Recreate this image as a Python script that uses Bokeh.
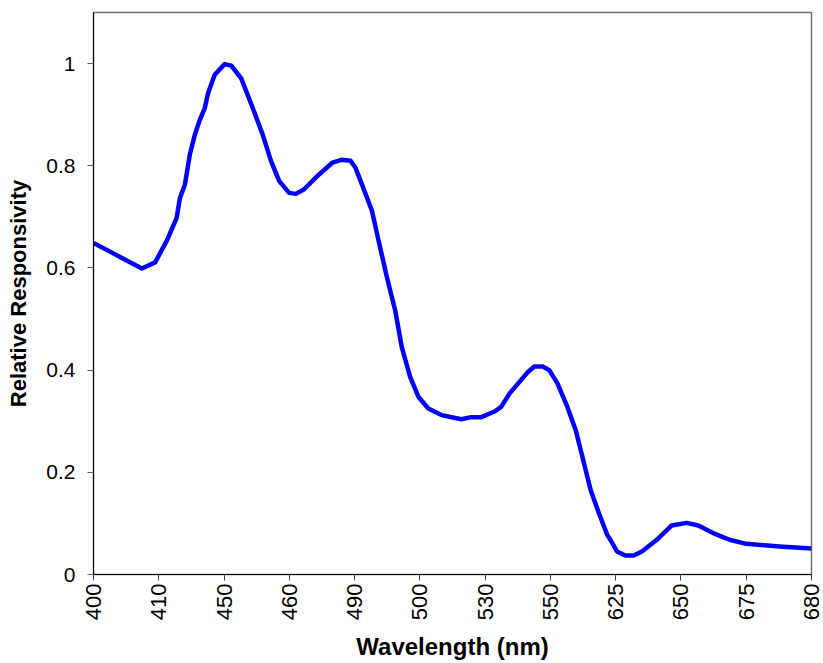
import math
from bokeh.plotting import figure
from bokeh.models import Range1d, FixedTicker, ColumnDataSource
from bokeh.embed import file_html
from bokeh.resources import INLINE

# Category labels shown on the x axis (evenly spaced, Excel-style category axis)
wavelength_labels = ["400", "410", "450", "460", "490", "500", "530", "550", "625", "650", "675", "680"]

# Curve samples: position along the category axis (label index units) and relative responsivity
curve_pos = [0.0, 0.741, 0.944, 1.122, 1.274, 1.324, 1.400, 1.476, 1.553, 1.629, 1.705, 1.755,
             1.857, 2.009, 2.111, 2.263, 2.440, 2.592, 2.720, 2.846, 2.998, 3.100, 3.227,
             3.455, 3.658, 3.810, 3.938, 4.014, 4.114, 4.266, 4.368, 4.495, 4.622, 4.723,
             4.851, 4.977, 5.129, 5.332, 5.636, 5.788, 5.941, 6.145, 6.245, 6.373, 6.651,
             6.753, 6.880, 6.982, 7.108, 7.260, 7.387, 7.489, 7.615, 7.743, 7.869, 7.919,
             8.021, 8.148, 8.275, 8.402, 8.630, 8.858, 9.087, 9.265, 9.493, 9.746, 10.0,
             10.507, 11.0]
responsivity = [0.649, 0.599, 0.611, 0.653, 0.698, 0.737, 0.763, 0.822, 0.861, 0.890, 0.913, 0.942,
                0.978, 0.999, 0.996, 0.971, 0.913, 0.861, 0.809, 0.770, 0.747, 0.745, 0.754,
                0.783, 0.806, 0.812, 0.810, 0.796, 0.763, 0.712, 0.653, 0.582, 0.517, 0.445,
                0.387, 0.348, 0.325, 0.312, 0.304, 0.308, 0.308, 0.319, 0.328, 0.354, 0.396,
                0.407, 0.407, 0.400, 0.374, 0.328, 0.283, 0.231, 0.166, 0.120, 0.078, 0.068,
                0.045, 0.037, 0.037, 0.045, 0.068, 0.096, 0.101, 0.096, 0.081, 0.068, 0.060,
                0.055, 0.051]

y_ticks = [0, 0.2, 0.4, 0.6, 0.8, 1]
y_tick_labels = ["0", "0.2", "0.4", "0.6", "0.8", "1"]

FONT = "Liberation Sans"

p = figure(width=823, height=663, output_backend="svg", toolbar_location=None,
           x_range=Range1d(0, len(wavelength_labels) - 1), y_range=Range1d(0, 1.1),
           min_border_left=93, min_border_right=12, min_border_top=12, min_border_bottom=88)

src = ColumnDataSource(dict(x=curve_pos, y=responsivity))
p.line("x", "y", source=src, line_color="#0000FF", line_width=4.5, line_join="round")

p.xgrid.visible = False
p.ygrid.visible = False
p.outline_line_color = "#707070"
p.outline_line_width = 1.5
p.background_fill_color = "white"
p.border_fill_color = "white"

# x axis
xa = p.xaxis[0]
xa.ticker = FixedTicker(ticks=list(range(len(wavelength_labels))))
xa.major_label_overrides = {i: lab for i, lab in enumerate(wavelength_labels)}
xa.major_label_orientation = math.pi / 2
xa.minor_tick_line_color = None
xa.major_tick_in = 0
xa.major_tick_out = 6
xa.major_tick_line_color = "#404040"
xa.axis_line_color = "black"
xa.major_label_text_font = FONT
xa.major_label_text_font_size = "22px"
xa.major_label_text_color = "black"
xa.major_label_standoff = 3
xa.axis_label = "Wavelength (nm)"
xa.axis_label_text_font = FONT
xa.axis_label_text_font_style = "bold"
xa.axis_label_text_font_size = "24px"
xa.axis_label_text_color = "black"
xa.axis_label_standoff = 10

# y axis
ya = p.yaxis[0]
ya.ticker = FixedTicker(ticks=y_ticks)
ya.major_label_overrides = {t: lab for t, lab in zip(y_ticks, y_tick_labels)}
ya.minor_tick_line_color = None
ya.major_tick_in = 0
ya.major_tick_out = 6
ya.major_tick_line_color = "#606060"
ya.axis_line_color = "black"
ya.major_label_text_font = FONT
ya.major_label_text_font_size = "21px"
ya.major_label_text_color = "black"
ya.major_label_standoff = 12
ya.axis_label = "Relative Responsivity"
ya.axis_label_text_font = FONT
ya.axis_label_text_font_style = "bold"
ya.axis_label_text_font_size = "22px"
ya.axis_label_text_color = "black"
ya.axis_label_standoff = 12

open("out.html", "w").write(file_html(p, INLINE))
